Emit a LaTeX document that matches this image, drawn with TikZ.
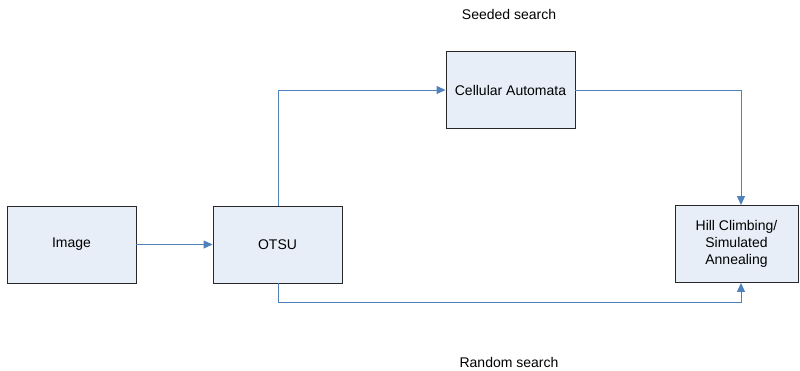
\documentclass[tikz,border=0pt]{standalone}
\usepackage{fontspec}
\setmainfont{Liberation Sans}
\usetikzlibrary{arrows.meta}
\definecolor{boxfill}{RGB}{232,238,248}
\definecolor{boxline}{RGB}{40,40,40}
\definecolor{flow}{RGB}{79,129,189}
\begin{document}
\begin{tikzpicture}[x=1pt,y=-1pt,
  block/.style={draw=boxline,fill=boxfill,line width=0.9pt,minimum width=129pt,minimum height=77pt,
    inner sep=0pt,align=center,font=\fontsize{14}{16.7}\selectfont},
  flowline/.style={draw=flow,line width=1pt,-{Triangle[length=9pt,width=8pt]}},
  caption/.style={font=\fontsize{14}{16.7}\selectfont,inner sep=0pt}]
\useasboundingbox (0,0) rectangle (800,370);
\node[block] (img) at (71.5,244.5) {Image};
\node[block] (otsu) at (277.5,244.5) {OTSU};
\node[block] (ca) at (510.5,90) {Cellular Automata};
\node[block,minimum width=123pt] (hc) at (736.5,244) {Hill Climbing/\\Simulated\\Annealing};
\node[caption] (seed) at (509,14) {Seeded search};
\node[caption] (rand) at (509,362) {Random search};
\coordinate (up) at (278,90);
\coordinate (downL) at (278,302);
\coordinate (downR) at (741,302);
\coordinate (topR) at (741,90);
\draw[flowline] (img.east) -- (otsu.west);
\draw[flowline] (otsu.north -| up) -- (up) -- (ca.west);
\draw[flowline] (ca.east) -- (topR) -- (hc.north -| topR);
\draw[flowline] (otsu.south -| downL) -- (downL) -- (downR) -- (hc.south -| downR);
\end{tikzpicture}
\end{document}
